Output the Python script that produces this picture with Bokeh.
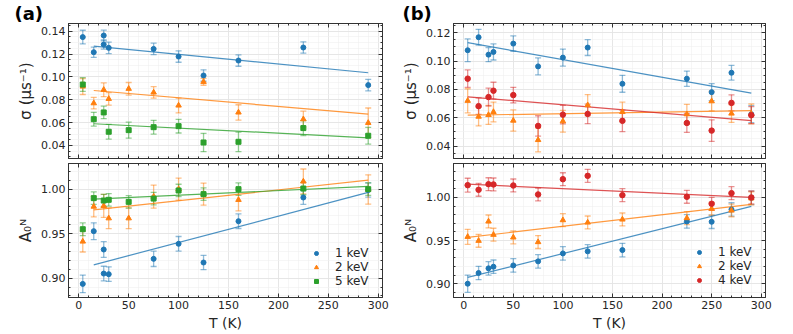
from bokeh.plotting import figure
from bokeh.layouts import row, column
from bokeh.models import (Range1d, LinearAxis, SingleIntervalTicker, PrintfTickFormatter, CustomJSTickFormatter,
                          Whisker, TeeHead, ColumnDataSource, Legend, LegendItem, Title)
from bokeh.embed import file_html
from bokeh.resources import INLINE

BLUE, ORANGE, GREEN, RED = "#1f77b4", "#ff7f0e", "#2ca02c", "#d62728"
FONT = "DejaVu Sans"

# ---------------- panel (a) data ----------------
a_T_blue = [4, 15, 25, 25, 30, 75, 100, 125, 160, 225, 290]
a_T = [4, 15, 25, 30, 50, 75, 100, 125, 160, 225, 290]

a_sig_1 = [0.1348, 0.1216, 0.1362, 0.1283, 0.1254, 0.1245, 0.1178, 0.1012, 0.1143, 0.1257, 0.0928]
a_sig_1_err = [0.006, 0.0045, 0.0047, 0.004, 0.005, 0.005, 0.005, 0.005, 0.005, 0.005, 0.005]
a_sig_2 = [0.0916, 0.0770, 0.0887, 0.0808, 0.0896, 0.0864, 0.0750, 0.0957, 0.0689, 0.0630, 0.0598]
a_sig_2_err = [0.007, 0.005, 0.006, 0.0055, 0.0055, 0.005, 0.0065, 0.003, 0.0067, 0.007, 0.013]
a_sig_5 = [0.0933, 0.0630, 0.0689, 0.0520, 0.0534, 0.0560, 0.0569, 0.0426, 0.0432, 0.0552, 0.0485]
a_sig_5_err = [0.006, 0.006, 0.0055, 0.0064, 0.007, 0.006, 0.006, 0.008, 0.0085, 0.0065, 0.0073]

a_fit_T = [15, 290]
a_sig_fit_1 = [0.1269, 0.1036]
a_sig_fit_2 = [0.0881, 0.0674]
a_sig_fit_5 = [0.0590, 0.0467]

a_A_1 = [0.8936, 0.9528, 0.9322, 0.9052, 0.9045, 0.9217, 0.9386, 0.9176, 0.9640, 0.9906, 0.9990]
a_A_1_err = [0.0099, 0.0094, 0.0088, 0.0082, 0.0082, 0.0086, 0.0082, 0.0079, 0.0082, 0.0077, 0.008]
a_A_2 = [0.9412, 0.9804, 0.9812, 0.9673, 0.9673, 0.9916, 1.0000, 0.9944, 0.9880, 1.0086, 0.9996]
a_A_2_err = [0.0118, 0.0116, 0.013, 0.0116, 0.0116, 0.013, 0.0124, 0.0124, 0.0124, 0.014, 0.0165]
a_A_5 = [0.9550, 0.9899, 0.9872, 0.9880, 0.9857, 0.9894, 0.9985, 0.9944, 1.0000, 1.0007, 1.0000]
a_A_5_err = [0.0071, 0.007, 0.007, 0.007, 0.007, 0.007, 0.007, 0.007, 0.007, 0.007, 0.007]

a_A_fit_1 = [0.9150, 0.9963]
a_A_fit_2 = [0.9768, 1.0101]
a_A_fit_5 = [0.9888, 1.0030]

# ---------------- panel (b) data ----------------
b_T = [4, 15, 25, 30, 50, 75, 100, 125, 160, 225, 250, 270, 290]

b_sig_1 = [0.1077, 0.1169, 0.1046, 0.1065, 0.1124, 0.0963, 0.1025, 0.1096, 0.0840, 0.0876, 0.0781, 0.0918, 0.0625]
b_sig_1_err = [0.008, 0.0056, 0.005, 0.0057, 0.0054, 0.006, 0.006, 0.0056, 0.006, 0.0054, 0.006, 0.0052, 0.006]
b_sig_2 = [0.0720, 0.0608, 0.0620, 0.0641, 0.0580, 0.0443, 0.0575, 0.0689, 0.0641, 0.0625, 0.0717, 0.0630, 0.0627]
b_sig_2_err = [0.0085, 0.0066, 0.0067, 0.007, 0.0075, 0.0084, 0.0077, 0.0075, 0.0069, 0.007, 0.0069, 0.0063, 0.007]
b_sig_4 = [0.0876, 0.0682, 0.0746, 0.0791, 0.0760, 0.0542, 0.0622, 0.0627, 0.0578, 0.0563, 0.0509, 0.0705, 0.0618]
b_sig_4_err = [0.0062, 0.0058, 0.0063, 0.006, 0.0055, 0.0072, 0.0066, 0.0069, 0.0076, 0.0067, 0.0076, 0.0057, 0.006]

b_fit_T = [4, 290]
b_sig_fit_1 = [0.1131, 0.0774]
b_sig_fit_2 = [0.0618, 0.0651]
b_sig_fit_4 = [0.0748, 0.0580]

b_A_1 = [0.9000, 0.9124, 0.9178, 0.9197, 0.9212, 0.9259, 0.9351, 0.9375, 0.9390, 0.9722, 0.9718, 0.9861, 0.9996]
b_A_1_err = [0.010, 0.0077, 0.0078, 0.0078, 0.0078, 0.0078, 0.0078, 0.0078, 0.0078, 0.0078, 0.0078, 0.0078, 0.0078]
b_A_2 = [0.9544, 0.9498, 0.9722, 0.9568, 0.9537, 0.9483, 0.9737, 0.9710, 0.9745, 0.9761, 0.9869, 0.9849, 0.9990]
b_A_2_err = [0.0087, 0.0075, 0.0075, 0.0075, 0.0075, 0.0075, 0.0075, 0.0075, 0.0075, 0.0075, 0.0075, 0.0075, 0.0075]
b_A_4 = [1.0143, 1.0089, 1.0154, 1.0151, 1.0139, 1.0035, 1.0212, 1.0251, 1.0027, 1.0008, 0.9927, 1.0050, 1.0000]
b_A_4_err = [0.008, 0.0075, 0.0075, 0.0075, 0.0075, 0.0075, 0.0075, 0.0075, 0.0075, 0.0075, 0.0075, 0.0075, 0.0075]

b_A_fit_1 = [0.9073, 0.9896]
b_A_fit_2 = [0.9537, 0.9919]
b_A_fit_4 = [1.0154, 1.0000]

legend_a = ["1 keV", "2 keV", "5 keV"]
legend_b = ["1 keV", "2 keV", "4 keV"]
panel_tags = ["(a)", "(b)"]

X_RANGE = (-10.3, 304.3)
BLANK = CustomJSTickFormatter(code="return ''")


def style_axis(ax, ticker, fmt, show_labels):
    ax.ticker = ticker
    ax.formatter = PrintfTickFormatter(format=fmt) if show_labels else BLANK
    ax.major_tick_in = 4
    ax.major_tick_out = 0
    ax.minor_tick_in = 2
    ax.minor_tick_out = 0
    ax.axis_line_color = "#333333"
    ax.major_tick_line_color = "#333333"
    ax.minor_tick_line_color = "#333333"
    ax.major_label_text_font = FONT
    ax.major_label_text_font_size = "11px"
    ax.major_label_text_color = "#262626"
    ax.major_label_standoff = 3 if show_labels else 0
    ax.axis_label_text_font = FONT
    ax.axis_label_text_font_size = "14px"
    ax.axis_label_text_font_style = "normal"
    ax.axis_label_text_color = "#262626"
    ax.axis_label_standoff = 3


def make_fig(width, height, y_range, y_int, y_minor, borders, show_x_labels, ylabel, xlabel=None):
    l, r, t, b = borders
    p = figure(width=width, height=height, x_range=Range1d(*X_RANGE), y_range=Range1d(*y_range),
               output_backend="svg", toolbar_location=None,
               min_border_left=l, min_border_right=r, min_border_top=t, min_border_bottom=b)
    xt = SingleIntervalTicker(interval=50, num_minor_ticks=5)
    yt = SingleIntervalTicker(interval=y_int, num_minor_ticks=y_minor)
    style_axis(p.xaxis[0], xt, "%d", show_x_labels)
    style_axis(p.yaxis[0], yt, "%.2f", True)
    p.yaxis[0].axis_label = ylabel
    p.yaxis[0].axis_label_text_font_size = "15px"
    if xlabel:
        p.xaxis[0].axis_label = xlabel
    ax_top = LinearAxis()
    style_axis(ax_top, xt, "%d", False)
    ax_right = LinearAxis()
    style_axis(ax_right, yt, "%.2f", False)
    p.add_layout(ax_top, "above")
    p.add_layout(ax_right, "right")
    p.xgrid.ticker = xt
    p.ygrid.ticker = yt
    for g in (p.xgrid, p.ygrid):
        g.grid_line_color = "#e2e2e2"
        g.grid_line_width = 0.8
        g.minor_grid_line_color = "#f0f0f0"
        g.minor_grid_line_width = 0.6
    p.outline_line_color = "#333333"
    p.outline_line_width = 1
    p.background_fill_color = "white"
    p.border_fill_color = "white"
    return p


def add_series(p, T, y, err, color, marker, size):
    src = ColumnDataSource(dict(x=T, y=y, lo=[a - e for a, e in zip(y, err)], hi=[a + e for a, e in zip(y, err)]))
    w = Whisker(base="x", upper="hi", lower="lo", source=src, line_color=color, line_alpha=0.5, line_width=1.3,
                upper_head=TeeHead(size=6, line_color=color, line_alpha=0.5, line_width=1.3),
                lower_head=TeeHead(size=6, line_color=color, line_alpha=0.5, line_width=1.3))
    p.add_layout(w)
    r = p.scatter("x", "y", source=src, marker=marker, size=size, fill_color=color, line_color=color)
    return r


def add_fit(p, T, y, color):
    p.line(T, y, line_color=color, line_width=1.2, line_alpha=0.8)


A_W, B_W = 393, 392
TOP_H, BOT_H = 160, 174

pa1 = make_fig(A_W, TOP_H, (0.0286, 0.1467), 0.02, 4, (68, 11, 23, 2), False, "σ (μs⁻¹)")
pa2 = make_fig(A_W, BOT_H, (0.8783, 1.0288), 0.05, 5, (68, 11, 3, 37), True, "A₀ᴺ", "T (K)")
pb1 = make_fig(B_W, TOP_H, (0.0312, 0.1266), 0.02, 4, (60, 20, 23, 2), False, "σ (μs⁻¹)")
pb2 = make_fig(B_W, BOT_H, (0.8840, 1.0394), 0.05, 5, (60, 20, 3, 37), True, "A₀ᴺ", "T (K)")

# panel (a)
add_fit(pa1, a_fit_T, a_sig_fit_1, BLUE)
add_fit(pa1, a_fit_T, a_sig_fit_2, ORANGE)
add_fit(pa1, a_fit_T, a_sig_fit_5, GREEN)
add_series(pa1, a_T_blue, a_sig_1, a_sig_1_err, BLUE, "circle", 5)
add_series(pa1, a_T, a_sig_2, a_sig_2_err, ORANGE, "triangle", 5.5)
add_series(pa1, a_T, a_sig_5, a_sig_5_err, GREEN, "square", 5)

add_fit(pa2, a_fit_T, a_A_fit_1, BLUE)
add_fit(pa2, a_fit_T, a_A_fit_2, ORANGE)
add_fit(pa2, a_fit_T, a_A_fit_5, GREEN)
ra1 = add_series(pa2, a_T_blue, a_A_1, a_A_1_err, BLUE, "circle", 5)
ra2 = add_series(pa2, a_T, a_A_2, a_A_2_err, ORANGE, "triangle", 5.5)
ra5 = add_series(pa2, a_T, a_A_5, a_A_5_err, GREEN, "square", 5)

# panel (b)
add_fit(pb1, b_fit_T, b_sig_fit_1, BLUE)
add_fit(pb1, b_fit_T, b_sig_fit_2, ORANGE)
add_fit(pb1, b_fit_T, b_sig_fit_4, RED)
add_series(pb1, b_T, b_sig_1, b_sig_1_err, BLUE, "circle", 5)
add_series(pb1, b_T, b_sig_2, b_sig_2_err, ORANGE, "triangle", 5.5)
add_series(pb1, b_T, b_sig_4, b_sig_4_err, RED, "circle", 5.5)

add_fit(pb2, b_fit_T, b_A_fit_1, BLUE)
add_fit(pb2, b_fit_T, b_A_fit_2, ORANGE)
add_fit(pb2, b_fit_T, b_A_fit_4, RED)
rb1 = add_series(pb2, b_T, b_A_1, b_A_1_err, BLUE, "circle", 5)
rb2 = add_series(pb2, b_T, b_A_2, b_A_2_err, ORANGE, "triangle", 5.5)
rb4 = add_series(pb2, b_T, b_A_4, b_A_4_err, RED, "circle", 5.5)


def add_legend(p, labels, rends, loc):
    lg = Legend(items=[LegendItem(label=lab, renderers=[r]) for lab, r in zip(labels, rends)],
                location=loc, orientation="vertical")
    lg.background_fill_alpha = 0
    lg.border_line_alpha = 0
    lg.label_text_font = FONT
    lg.label_text_font_size = "12px"
    lg.label_text_color = "#262626"
    lg.glyph_width = 12
    lg.glyph_height = 10
    lg.label_standoff = 13
    lg.spacing = 0
    lg.padding = 0
    lg.margin = 0
    lg.label_height = 10
    p.add_layout(lg)


add_legend(pa2, legend_a, [ra1, ra2, ra5], (242, 9))
add_legend(pb2, legend_b, [rb1, rb2, rb4], (240, 10))

for p, tag, off in ((pa1, panel_tags[0], -54), (pb1, panel_tags[1], -51)):
    p.add_layout(Title(text=tag, align="left", offset=off, standoff=0,
                       text_font=FONT, text_font_size="18px", text_font_style="bold",
                       text_color="black"), "above")

layout = row(column(pa1, pa2), column(pb1, pb2))
open("out.html", "w").write(file_html(layout, INLINE))
